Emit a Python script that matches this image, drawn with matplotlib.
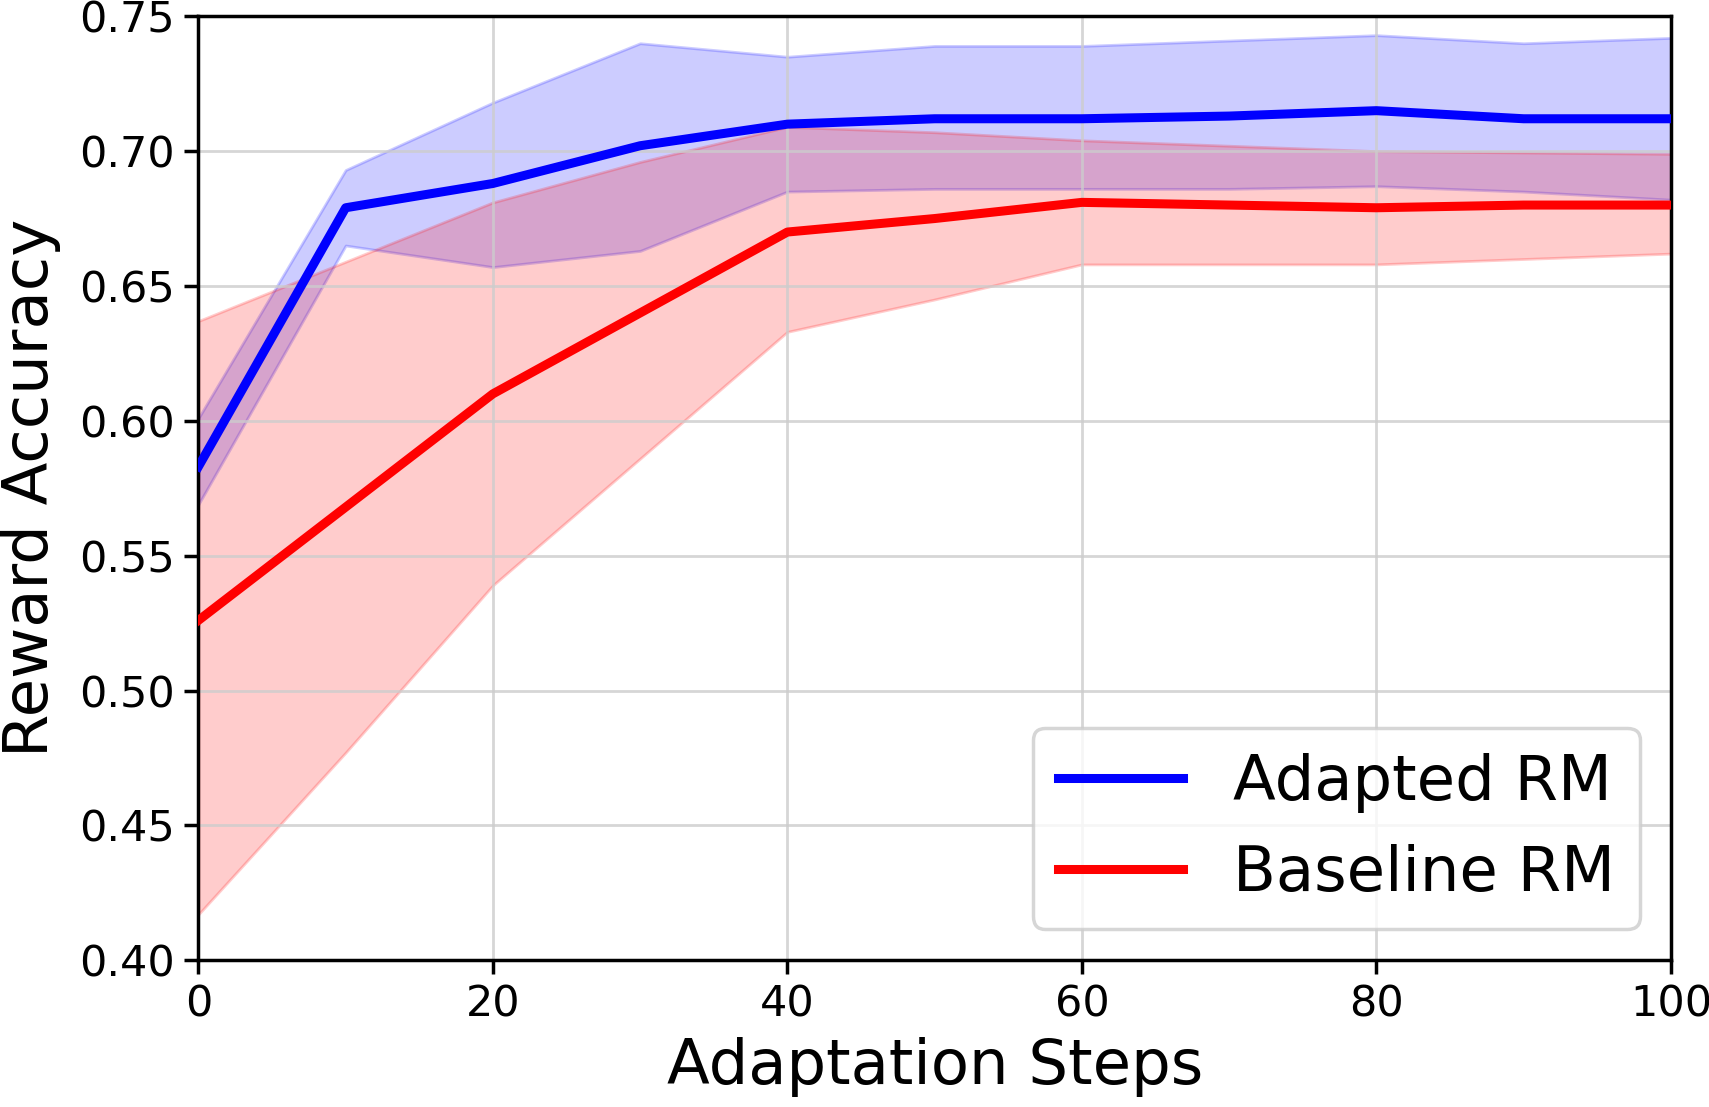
import matplotlib
matplotlib.use("Agg")
import matplotlib.pyplot as plt
import numpy as np

steps = [0, 10, 20, 30, 40, 50, 60, 70, 80, 90, 100]

adapted_mean  = [0.583, 0.679, 0.688, 0.702, 0.710, 0.712, 0.712, 0.713, 0.715, 0.712, 0.712]
adapted_upper = [0.601, 0.693, 0.718, 0.740, 0.735, 0.739, 0.739, 0.741, 0.743, 0.740, 0.742]
adapted_lower = [0.569, 0.665, 0.657, 0.663, 0.685, 0.686, 0.686, 0.686, 0.687, 0.685, 0.682]

baseline_mean  = [0.526, 0.568, 0.610, 0.640, 0.670, 0.675, 0.681, 0.680, 0.679, 0.680, 0.680]
baseline_upper = [0.637, 0.659, 0.681, 0.696, 0.709, 0.707, 0.704, 0.702, 0.700, 0.6995, 0.699]
baseline_lower = [0.417, 0.477, 0.539, 0.586, 0.633, 0.645, 0.658, 0.658, 0.658, 0.660, 0.662]

x_ticks = [0, 20, 40, 60, 80, 100]
y_ticks = [0.40, 0.45, 0.50, 0.55, 0.60, 0.65, 0.70, 0.75]

fig = plt.figure(figsize=(17.09, 11.07), dpi=100)
ax = fig.add_axes([0.1161, 0.1326, 0.9777 - 0.1161, 0.9853 - 0.1326])

ax.fill_between(steps, adapted_lower, adapted_upper, color="blue", alpha=0.2, linewidth=2)
ax.fill_between(steps, baseline_lower, baseline_upper, color="red", alpha=0.2, linewidth=2)
ax.plot(steps, adapted_mean, color="blue", linewidth=6.5, label="Adapted RM", zorder=3)
ax.plot(steps, baseline_mean, color="red", linewidth=6.5, label="Baseline RM", zorder=3)

ax.set_xlim(0, 100)
ax.set_ylim(0.40, 0.75)
ax.set_xticks(x_ticks)
ax.set_yticks(y_ticks)
ax.set_yticklabels([f"{v:.2f}" for v in y_ticks])
ax.grid(True, color="#cccccc", linewidth=2, alpha=0.8)

for s in ax.spines.values():
    s.set_linewidth(2.5)
ax.tick_params(axis="both", labelsize=31, length=10, width=2.5, pad=7)

ax.set_xlabel("Adaptation Steps", fontsize=45, labelpad=8)
ax.set_ylabel("Reward Accuracy", fontsize=45, labelpad=13)

leg = ax.legend(loc="lower right", fontsize=45, handlelength=2.0, borderaxespad=0.5,
                handletextpad=0.8)
leg.get_frame().set_linewidth(2.5)

fig.savefig("out.png", dpi=100)
